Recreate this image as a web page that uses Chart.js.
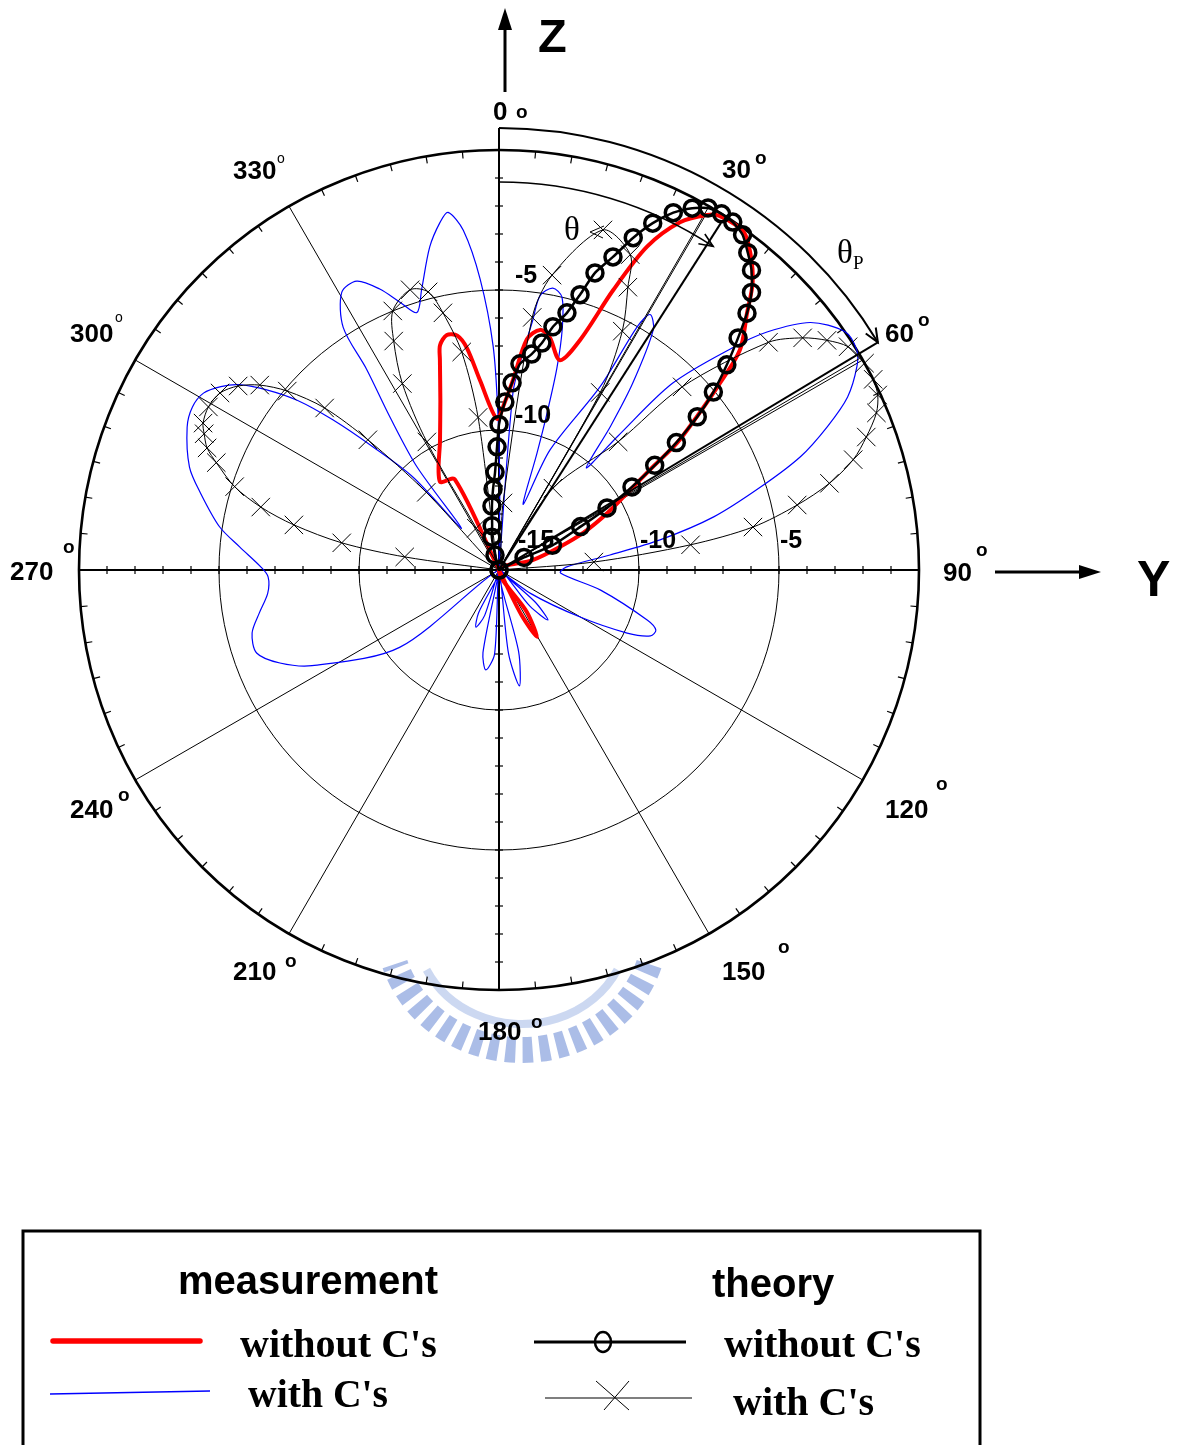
<!DOCTYPE html>
<html>
<head>
<meta charset="utf-8">
<script src="https://cdn.jsdelivr.net/npm/chart.js@4.4.1/dist/chart.umd.min.js"></script>
<style>
  html, body { margin: 0; padding: 0; background: #fff; }
</style>
</head>
<body>
<canvas id="myChart" width="1180" height="1445"></canvas>
<script>
// polar scale: radius in dB, centre = -15 dB, outer ring = 0 dB
const dbMin = -15;
const dbMax = 0;
const ringValues = [-10, -5, 0];
const spokeAngles = [0, 30, 60, 90, 120, 150, 180, 210, 240, 270, 300, 330];
const angleTickLabels = ['0', '30', '60', '90', '120', '150', '180', '210', '240', '270', '300', '330'];
const radialTickLabels = ['-5', '-10', '-15', '-10', '-5'];

// [angle in degrees, level in dB], in drawing order
const measWithout = [
  [334, -15], [334, -11.4], [326.2, -11.2], [335.6, -9.9], [340.9, -8.6], [344.3, -7.2], [345.3, -6.7],
  [347.5, -6.4], [349.9, -6.5], [351.8, -7.0], [354.3, -8.2], [359.2, -9.6], [2, -9.0], [4.2, -8.2],
  [6.9, -6.7], [9.7, -6.3], [12.3, -6.5], [16.2, -7.2], [19.4, -6.3], [22.2, -4.2], [24.6, -2.3],
  [27.5, -1.0], [30.4, -0.3], [32, -0.1], [35.9, -0.1], [38.4, -0.55], [41.4, -1.3], [44, -2.25],
  [47.6, -3.35], [50, -4.8], [52.3, -6.1], [54.5, -7.2], [56.2, -8.4], [58.6, -9.5], [62.2, -10.6],
  [66.2, -11.7], [69.3, -12.7], [73.6, -13.75], [78, -15],
  [146.5, -13.2], [150.4, -12.25], [153.5, -13.2]
];

const measWith = [
  [2, -15], [4.5, -8.65], [6.3, -7.2], [7.7, -6.0], [8.5, -5.1], [10.8, -4.75], [13, -5.0], [14.7, -6.1],
  [16, -7.5], [17, -9.1], [18, -10.6], [20.3, -12.5],
  [23, -10.35], [28.9, -7.5], [29.6, -5.0], [30.6, -4.4], [32.7, -4.8], [35.6, -6.8], [37.8, -8.5], [40.5, -10.2],
  [41.6, -8.6], [42.9, -5.9], [46.4, -3.5], [48.4, -2.2], [51.5, -0.8], [55.4, 0], [58.4, 0], [60.4, -0.3],
  [63.6, -1.1], [66.4, -2.2], [69.4, -3.5], [72.4, -5.2], [76.1, -7.1], [79.4, -9.15], [82.3, -11],
  [87.5, -12.6], [92.8, -12.8],
  [101.2, -11.3], [108.7, -9.4], [111, -9.0], [113.5, -9.1], [116.2, -9.9], [120.1, -11.65], [126.6, -13.6], [129, -15],
  [131.5, -13.3], [135.6, -12.5], [139.5, -13.3], [150, -15],
  [166.5, -12], [170, -10.8], [173.5, -12], [178, -15],
  [183, -12], [187.5, -11.4], [191, -12], [195, -15],
  [197.5, -13.3], [202, -12.8], [205.5, -13.3], [215, -15],
  [232.1, -10.5], [242.9, -7.5], [247, -6.5], [251.1, -5.85], [255.7, -5.9], [259.8, -6.3], [264.3, -6.7],
  [268.3, -6.75], [270.7, -6.5], [275.1, -5.7], [278.8, -4.9], [284.4, -4.0], [288.4, -3.35], [294.6, -2.75],
  [298, -2.6], [300.9, -2.7], [303.4, -3.1], [305.5, -3.6], [307.8, -4.5], [310.1, -5.6], [312.1, -7.0],
  [314.3, -8.7], [317.2, -10.5], [318, -13],
  [321.5, -10.3], [324.5, -8.3], [326.6, -6.4], [327.3, -4.7], [330.5, -3.6], [333.8, -3.5], [337, -4.1],
  [339.7, -4.8], [342.3, -5.35],
  [344.6, -4.6], [347.9, -3.2], [350.4, -2.4], [351.9, -2.1], [354, -2.8], [356.3, -4.6], [358.5, -7.0],
  [359.6, -9.4], [0.5, -12]
];

const theoryWithout = [
  [340, -15], [345, -14.45], [347.7, -13.8], [351.2, -13.4], [353.7, -12.7], [355.8, -12.1], [357.7, -11.5],
  [359.1, -10.6], [0, -9.8], [2, -9.0], [4, -8.3], [5.8, -7.6], [8.6, -7.2], [10.7, -6.75], [12.5, -6.1],
  [14.8, -5.5], [16.4, -4.75], [17.9, -3.85], [20, -3.1], [22, -2.2], [23.9, -1.45], [26, -0.8], [28.1, -0.35],
  [30, -0.07], [32, 0], [33.9, -0.03], [36, -0.2], [38.1, -0.6], [40.1, -1.0], [42.3, -1.6], [44, -2.25],
  [45.85, -3.1], [48, -4.05], [50.3, -5.05], [52.3, -6.05], [54.3, -7.2], [56.1, -8.3], [58, -9.4],
  [60.1, -10.55], [62, -11.7], [65.2, -12.9], [63.4, -14.0]
];

const theoryWith = [
  [270, -15], [277.9, -11.6], [279.8, -9.3], [282.4, -7.5], [284.8, -6.2], [287.5, -5.1], [290.8, -4.2],
  [292.7, -3.7], [294.8, -3.4], [296.4, -3.2], [299.3, -3.1], [302.4, -3.2], [305.2, -3.6], [307.7, -4.2],
  [310.2, -5.1], [312.9, -6.5], [314.8, -8.4], [316.9, -11.2], [322, -15],
  [331.5, -13.3], [330.6, -9.75], [332.6, -7.5], [335.3, -6.0], [337.7, -5.0], [342.4, -4.5], [345.7, -4.75],
  [347.7, -5.6], [350.3, -7.1], [352.2, -9.5], [357, -15],
  [3.4, -12.6], [7.5, -5.9], [10.2, -4.3], [17, -2.3], [22.6, -2.8], [24.5, -3.9], [27.3, -5.4], [29.7, -7.7],
  [31.5, -15], [33.4, -11.5], [42.9, -8.75], [45, -5.75], [49.8, -2.4], [52.6, -1.35], [55, -0.7], [57.4, -0.2],
  [60.5, 0], [63, 0], [65.2, -0.1], [67.4, -0.4], [70.1, -1.05], [72.7, -1.75], [75.3, -2.8], [77.7, -4.1],
  [80.4, -5.8], [82.5, -8.1], [85.2, -11.6], [90, -15]
];

function toXY(p) {
  const r = Math.max(p[1], dbMin) - dbMin;
  const a = p[0] * Math.PI / 180;
  return { x: r * Math.sin(a), y: r * Math.cos(a), db: p[1] };
}
function closeLoop(pts) {
  return pts.concat([pts[0]]).map(toXY);
}

const SANS = '"Liberation Sans", Arial, sans-serif';
const SERIF = '"Liberation Serif", "Times New Roman", serif';

function geom(chart) {
  const x = chart.scales.x, y = chart.scales.y;
  const cx = x.getPixelForValue(0), cy = y.getPixelForValue(0);
  const k = x.getPixelForValue(1) - cx;
  return { cx, cy, k, R: (dbMax - dbMin) * k };
}
function P(g, deg, rpx) {
  const a = deg * Math.PI / 180;
  return [g.cx + rpx * Math.sin(a), g.cy - rpx * Math.cos(a)];
}
function line(ctx, a, b, w) {
  ctx.lineWidth = w;
  ctx.beginPath(); ctx.moveTo(a[0], a[1]); ctx.lineTo(b[0], b[1]); ctx.stroke();
}

const watermark = {
  id: 'watermark',
  beforeDraw(chart) {
    const ctx = chart.ctx;
    ctx.save();
    ctx.fillStyle = '#fff';
    ctx.fillRect(0, 0, chart.width, chart.height);
    ctx.strokeStyle = 'rgba(150,172,225,0.8)';
    ctx.lineWidth = 26;
    ctx.setLineDash([10, 7]);
    ctx.beginPath();
    ctx.ellipse(522, 928, 133, 122, 0, 0.3, Math.PI - 0.3);
    ctx.stroke();
    ctx.setLineDash([]);
    ctx.lineWidth = 8;
    ctx.strokeStyle = 'rgba(170,190,232,0.6)';
    ctx.beginPath();
    ctx.ellipse(522, 928, 106, 96, 0, 0.45, Math.PI - 0.45);
    ctx.stroke();
    ctx.restore();
  }
};

const polarGrid = {
  id: 'polarGrid',
  beforeDatasetsDraw(chart) {
    const ctx = chart.ctx;
    const g = geom(chart);
    ctx.save();
    ctx.strokeStyle = '#000';
    ringValues.forEach(v => {
      ctx.lineWidth = v === dbMax ? 2.6 : 1;
      ctx.beginPath();
      ctx.arc(g.cx, g.cy, (v - dbMin) * g.k, 0, Math.PI * 2);
      ctx.stroke();
    });
    spokeAngles.forEach(a => {
      line(ctx, [g.cx, g.cy], P(g, a, g.R), a % 90 === 0 ? 2 : 1);
    });
    // ticks on the outer ring every 5 degrees
    for (let a = 0; a < 360; a += 5) {
      if (a % 30 === 0) continue;
      line(ctx, P(g, a, g.R), P(g, a, g.R - 7), 1.2);
    }
    // ticks on the main axes every 1 dB
    for (let a = 0; a < 360; a += 90) {
      for (let d = 1; d < dbMax - dbMin; d++) {
        const r = d * g.k;
        const c = P(g, a, r), n = P(g, a + 90, 4);
        const dx = n[0] - g.cx, dy = n[1] - g.cy;
        line(ctx, [c[0] - dx, c[1] - dy], [c[0] + dx, c[1] + dy], 1.2);
      }
    }
    ctx.restore();
  }
};

function arrowHead(ctx, tip, dir, len, spread) {
  const back = Math.atan2(-dir[1], -dir[0]);
  ctx.beginPath();
  ctx.moveTo(tip[0] + len * Math.cos(back + spread), tip[1] + len * Math.sin(back + spread));
  ctx.lineTo(tip[0], tip[1]);
  ctx.lineTo(tip[0] + len * Math.cos(back - spread), tip[1] + len * Math.sin(back - spread));
  ctx.stroke();
}

const annotations = {
  id: 'annotations',
  afterDatasetsDraw(chart) {
    const ctx = chart.ctx;
    const g = geom(chart);
    ctx.save();
    ctx.strokeStyle = '#000';
    ctx.fillStyle = '#000';
    ctx.lineCap = 'butt';

    // theta_P and theta arcs
    line(ctx, [g.cx, g.cy - g.R], [g.cx, g.cy - 442], 2);
    const arcs = [[442, 59, 2], [388, 33.5, 1.6]];
    arcs.forEach(([rad, end, w]) => {
      ctx.lineWidth = w;
      ctx.beginPath();
      ctx.arc(g.cx, g.cy, rad, -Math.PI / 2, (end - 90) * Math.PI / 180);
      ctx.stroke();
      const tip = P(g, end, rad);
      const a = end * Math.PI / 180;
      arrowHead(ctx, tip, [Math.cos(a), Math.sin(a)], 15, 0.4);
    });
    line(ctx, [g.cx, g.cy], P(g, 59, 442), 2);
    line(ctx, [g.cx, g.cy], P(g, 59.6, 418), 1);
    line(ctx, [g.cx, g.cy], P(g, 32.6, 412), 2);
    line(ctx, [g.cx, g.cy], P(g, 30.2, 408), 1);
    line(ctx, [590, 232], [604, 226], 1);
    line(ctx, [590, 232], [603, 238], 1);

    // Z and Y axis arrows
    line(ctx, [505, 92], [505, 26], 3);
    ctx.beginPath(); ctx.moveTo(505, 8); ctx.lineTo(498, 30); ctx.lineTo(512, 30); ctx.closePath(); ctx.fill();
    line(ctx, [995, 572], [1082, 572], 3);
    ctx.beginPath(); ctx.moveTo(1101, 572); ctx.lineTo(1079, 565); ctx.lineTo(1079, 579); ctx.closePath(); ctx.fill();
    ctx.font = 'bold 47px ' + SANS;
    ctx.fillText('Z', 538, 52);
    ctx.font = 'bold 50px ' + SANS;
    ctx.fillText('Y', 1137, 596);

    // angle labels
    const angPos = [
      [493, 120, 516, 118], [722, 178, 755, 164], [885, 342, 918, 326], [943, 581, 976, 556],
      [885, 818, 936, 790], [722, 980, 778, 953], [478, 1040, 531, 1028], [233, 980, 285, 967],
      [70, 818, 118, 801], [10, 580, 63, 553], [70, 342, 115, 322], [233, 179, 277, 163]
    ];
    angleTickLabels.forEach((t, i) => {
      const p = angPos[i];
      ctx.font = 'bold 26px ' + SANS;
      ctx.fillText(t, p[0], p[1]);
      ctx.font = i >= 10 ? '14px ' + SANS : 'bold 19px ' + SANS;
      ctx.fillText('o', p[2], p[3]);
    });

    // radial level labels
    const radPos = [[515, 283], [515, 423], [518, 548], [640, 548], [780, 548]];
    ctx.font = 'bold 25px ' + SANS;
    radialTickLabels.forEach((t, i) => ctx.fillText(t, radPos[i][0], radPos[i][1]));

    // theta symbols
    ctx.font = '33px ' + SERIF;
    ctx.fillText('\u03b8', 564, 240);
    ctx.fillText('\u03b8', 837, 263);
    ctx.font = '19px ' + SERIF;
    ctx.fillText('P', 853, 269);
    ctx.restore();
  }
};

const legendBox = {
  id: 'legendBox',
  afterDraw(chart) {
    const ctx = chart.ctx;
    ctx.save();
    ctx.strokeStyle = '#000';
    ctx.lineWidth = 3;
    ctx.strokeRect(23, 1231, 957, 240);
    ctx.fillStyle = '#000';
    ctx.font = 'bold 40px ' + SANS;
    ctx.fillText('measurement', 178, 1294, 260);
    ctx.fillText('theory', 712, 1297, 123);
    ctx.font = 'bold 40px ' + SERIF;
    ctx.fillText("without C's", 240, 1357, 197);
    ctx.fillText("with C's", 248, 1407, 140);
    ctx.fillText("without C's", 724, 1357, 197);
    ctx.fillText("with C's", 733, 1415, 142);

    ctx.lineCap = 'round';
    ctx.strokeStyle = '#ff0000';
    line(ctx, [53, 1341], [200, 1341], 5.5);
    ctx.lineCap = 'butt';
    ctx.strokeStyle = '#0000ff';
    line(ctx, [50, 1394], [210, 1391], 1.5);
    ctx.strokeStyle = '#000';
    line(ctx, [534, 1342], [686, 1342], 3);
    ctx.lineWidth = 2.5;
    ctx.beginPath(); ctx.ellipse(603, 1342, 8, 10, 0, 0, Math.PI * 2); ctx.stroke();
    ctx.strokeStyle = '#555';
    line(ctx, [545, 1398], [692, 1398], 1.5);
    ctx.strokeStyle = '#000';
    line(ctx, [596, 1381], [629, 1410], 1);
    line(ctx, [629, 1381], [604, 1410], 1);
    ctx.restore();
  }
};

const ctx = document.getElementById('myChart');
new Chart(ctx, {
  type: 'scatter',
  data: {
    datasets: [{
      label: "theory without C's",
      data: theoryWithout.concat([[63.4, -15]]).map(toXY),
      showLine: true,
      borderColor: '#000',
      borderWidth: 2.5,
      pointStyle: 'circle',
      pointRadius: 8,
      pointBorderWidth: 3.5,
      pointBorderColor: '#000',
      pointBackgroundColor: 'rgba(0,0,0,0)',
      tension: 0.2,
      clip: false
    }, {
      label: "theory with C's",
      data: closeLoop(theoryWith),
      showLine: true,
      borderColor: '#000',
      borderWidth: 1,
      pointStyle: 'crossRot',
      pointRadius: c => (c.raw && c.raw.db <= dbMin ? 0 : 13),
      pointBorderWidth: 1,
      pointBorderColor: '#000',
      tension: 0.3,
      clip: false
    }, {
      label: "measurement without C's",
      data: closeLoop(measWithout),
      showLine: true,
      borderColor: '#ff0000',
      borderWidth: 4,
      pointRadius: 0,
      tension: 0.3,
      clip: false
    }, {
      label: "measurement with C's",
      data: closeLoop(measWith),
      showLine: true,
      borderColor: '#0000ff',
      borderWidth: 1.2,
      pointRadius: 0,
      tension: 0.3,
      clip: false
    }]
  },
  options: {
    responsive: false,
    animation: false,
    events: [],
    layout: { padding: { left: 79, right: 261, top: 150, bottom: 455 } },
    scales: {
      x: { type: 'linear', min: -15, max: 15, display: false },
      y: { type: 'linear', min: -15, max: 15, display: false }
    },
    plugins: {
      legend: { display: false },
      tooltip: { enabled: false }
    }
  },
  plugins: [watermark, polarGrid, annotations, legendBox]
});
</script>
</body>
</html>
